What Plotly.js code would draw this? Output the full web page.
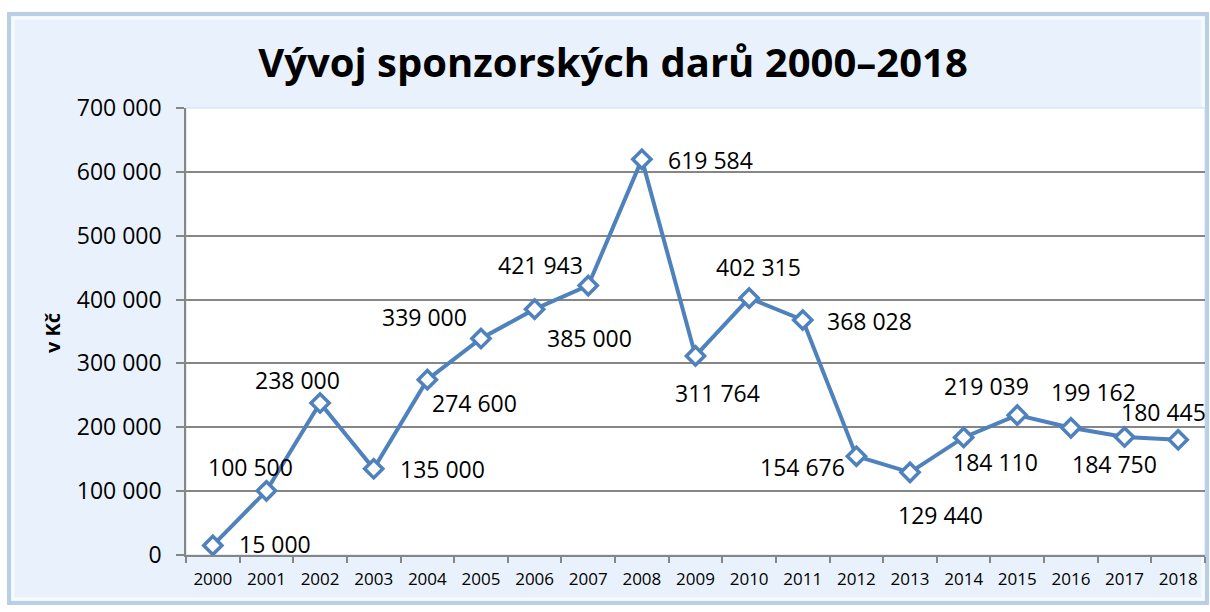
<!DOCTYPE html>
<html>
<head>
<meta charset="utf-8">
<script src="https://cdn.plot.ly/plotly-3.0.1.min.js"></script>
<style>html,body{margin:0;padding:0;background:#fff;}#chart{width:1210px;height:612px;}</style>
</head>
<body>
<div id="chart"></div>
<script>
// ---- data ----
const years = ["2000","2001","2002","2003","2004","2005","2006","2007","2008","2009","2010","2011","2012","2013","2014","2015","2016","2017","2018"];
const donations = [15000,100500,238000,135000,274600,339000,385000,421943,619584,311764,402315,368028,154676,129440,184110,219039,199162,184750,180445];
const yTicks = [0,100000,200000,300000,400000,500000,600000,700000];
const titleText = "Vývoj sponzorských darů 2000–2018";
const yTitleText = "v Kč";

// ---- label placement (pixel offsets from each point) ----
const labelDx = [62,-16,-23,69,47,-56,55,-48,69,22,9,67,-54,30,32,-31,23,-10,-15];
const labelDy = [-1,-24,-23,0,23,-22,29,-21,1,37,-31,1,11,43,25,-29,-36,27,-28];

const fmt = v => String(v).replace(/\B(?=(\d{3})+(?!\d))/g, " ");
const FONT = "'Open Sans', sans-serif";
const L = 186, R = 1205, T = 108, B = 555;
const px = x => (x - L) / (R - L);
const py = y => (B - y) / (B - T);

const trace = {
  x: years, y: donations, type: "scatter", mode: "lines+markers",
  line: {color: "#4f81bd", width: 4},
  marker: {symbol: "diamond", size: 14, color: "#ffffff", line: {color: "#4f81bd", width: 3.5}},
  hoverinfo: "x+y", cliponaxis: false
};

const annotations = years.map((yr, i) => ({
  x: i, y: donations[i], xref: "x", yref: "y",
  text: fmt(donations[i]), showarrow: false,
  xshift: labelDx[i], yshift: -labelDy[i],
  font: {family: FONT, size: 23, color: "#000"}
}));
annotations.push({
  xref: "paper", yref: "paper", x: px(52), y: py(333), xanchor: "center", yanchor: "middle",
  text: "<b>" + yTitleText + "</b>",
  textangle: -90, showarrow: false, font: {family: FONT, size: 20, color: "#000"}
});

const layout = {
  width: 1210, height: 612,
  margin: {l: L, r: 1210 - R, t: T, b: 612 - B},
  paper_bgcolor: "#ffffff", plot_bgcolor: "#ffffff",
  separators: ", ",
  showlegend: false,
  title: {text: "<b>" + titleText + "</b>", x: 613/1210, xanchor: "center", y: 1 - 63/612, yanchor: "middle",
          font: {family: FONT, size: 40, color: "#000"}},
  xaxis: {
    type: "category", categoryarray: years, range: [-0.5, years.length - 0.5], autorange: false,
    tickson: "boundaries", ticks: "outside", ticklen: 6, tickcolor: "#868686", tickwidth: 1.5, tickangle: 0,
    showgrid: false, showline: true, linecolor: "#868686", linewidth: 1.5,
    tickfont: {family: FONT, size: 17, color: "#000"}, ticklabelstandoff: 8, fixedrange: true
  },
  yaxis: {
    range: [0, 700000], autorange: false, tickvals: yTicks, tickformat: ",d", ticks: "outside", ticklen: 8,
    tickcolor: "#868686", tickwidth: 1.5, showgrid: true, gridcolor: "#868686", gridwidth: 1.5,
    showline: true, linecolor: "#868686", linewidth: 1.5, zeroline: false,
    tickfont: {family: FONT, size: 23, color: "#000"}, ticklabelstandoff: 10, fixedrange: true
  },
  shapes: [
    {type: "rect", xref: "paper", yref: "paper", x0: px(9), x1: px(1207), y0: py(603), y1: py(14),
     fillcolor: "#e9f2fc", line: {color: "#b9cfe6", width: 4}, layer: "below"},
    {type: "rect", xref: "paper", yref: "paper", x0: px(13), x1: px(1203), y0: py(599), y1: py(18),
     fillcolor: "rgba(0,0,0,0)", line: {color: "#f7fbff", width: 3}, layer: "below"},
    {type: "rect", xref: "paper", yref: "paper", x0: 0, x1: 1, y0: 0, y1: 1,
     fillcolor: "#ffffff", line: {color: "#c9dbee", width: 1}, layer: "below"}
  ],
  annotations: annotations
};

Plotly.newPlot("chart", [trace], layout, {displayModeBar: false});
</script>
</body>
</html>
